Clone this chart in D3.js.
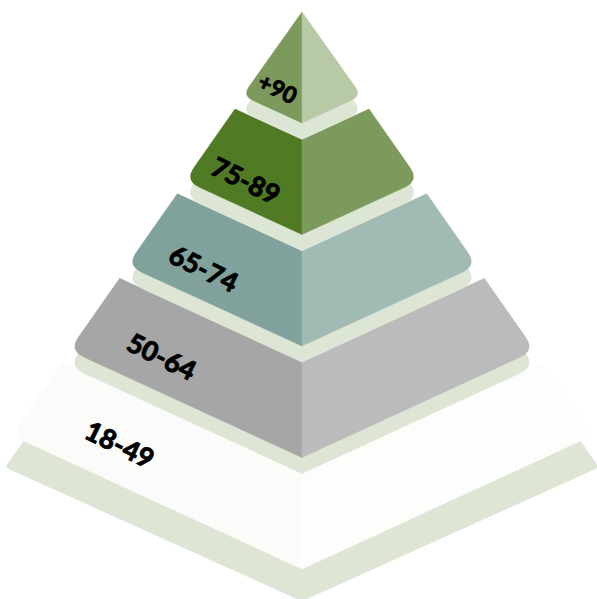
<!DOCTYPE html>
<html>
<head>
<meta charset="utf-8">
<script src="https://cdn.jsdelivr.net/npm/d3@7"></script>
<style>
  html, body { margin: 0; padding: 0; background: #ffffff; }
  svg { display: block; }
</style>
</head>
<body>
<div id="chart"></div>
<script>
// ---- data ----
const categories = ["+90", "75-89", "65-74", "50-64", "18-49"];
const leftColors = ["#7c9a5b", "#507b24", "#81a29c", "#a6a6a6", "#fbfbf9"];
const rightColors = ["#b7c9a5", "#7c9a5b", "#a2bab4", "#bbbbbb", "#fdfdfb"];
const shadowColor = "#dde5d5";

// ---- layout ----
const W = 597, H = 599;
const cx = 302;
const vSlope = 0.46;   // slope of the front V edges (dy/dx)
const idx = d3.range(categories.length);

const yBottom = d3.scaleLinear().domain([0, 4]).range([123, 569]);
const yTop = d3.scaleLinear().domain([1, 4]).range([109, 363]);
const halfTop = d3.scaleLinear().domain([1, 4]).range([67, 240]);
const labelX = d3.scaleLinear().domain([1, 4]).range([246, 120]);
const labelY = d3.scaleLinear().domain([1, 4]).range([180, 444]);

function geom(i) {
  const yT = i === 0 ? 12 : yTop(i);
  const wT = i === 0 ? 0 : halfTop(i);
  const k = i === 0 ? 0.71 : 0.70;
  const yB = yBottom(i);
  const u = (wT + k * (yB - yT)) / (1 + k * vSlope);
  const yC = yB - vSlope * u;
  return { yT, wT, yB, u, yC, tc: yT + vSlope * wT };
}

function unit(ax, ay, bx, by) {
  const dx = bx - ax, dy = by - ay, l = Math.hypot(dx, dy);
  return [dx / l, dy / l];
}

// side: -1 left, +1 right
function facePath(g, side, r, dx = 0, dy = 0, grow = 0) {
  const s = side;
  const TL = [cx + s * (g.wT + grow) + dx, g.yT + dy];
  const TC = [cx + dx, g.tc + dy];
  const BC = [cx + dx, g.yB + dy];
  const C = [cx + s * (g.u + grow) + dx, g.yC + dy];
  const p = d3.path();
  if (r > 0) {
    const a = unit(C[0], C[1], TL[0], TL[1]);
    const b = unit(C[0], C[1], BC[0], BC[1]);
    p.moveTo(TL[0], TL[1]);
    p.lineTo(C[0] + a[0] * r, C[1] + a[1] * r);
    p.quadraticCurveTo(C[0], C[1], C[0] + b[0] * r, C[1] + b[1] * r);
  } else {
    p.moveTo(TL[0], TL[1]);
    p.lineTo(C[0], C[1]);
  }
  p.lineTo(BC[0], BC[1]);
  p.lineTo(TC[0], TC[1]);
  p.closePath();
  return p.toString();
}

const svg = d3.select("#chart").append("svg")
  .attr("width", W).attr("height", H);

// draw from bottom layer up
const order = idx.slice().reverse();
order.forEach(i => {
  const g = geom(i);
  const r = i === 0 ? 11 : 16;
  const grp = svg.append("g").attr("class", "layer");
  const last = i === categories.length - 1;
  const sdy = last ? 32 : 16;
  const grow = last ? 6 : 0;
  const sr = last ? 3 : r;
  [-1, 1].forEach(s => {
    grp.append("path")
      .attr("d", facePath(g, s, sr, 0, sdy, grow))
      .attr("fill", shadowColor)
      .attr("stroke", shadowColor).attr("stroke-width", 0.6);
  });
  grp.append("path").attr("d", facePath(g, -1, r)).attr("fill", leftColors[i])
    .attr("stroke", leftColors[i]).attr("stroke-width", 0.5);
  grp.append("path").attr("d", facePath(g, 1, r)).attr("fill", rightColors[i])
    .attr("stroke", rightColors[i]).attr("stroke-width", 0.5);
});

// labels
const angle = 26;
svg.append("g").selectAll("text").data(idx).join("text")
  .attr("transform", i => {
    const x = i === 0 ? 278 : labelX(i);
    const y = i === 0 ? 88 : labelY(i);
    return `translate(${x},${y}) rotate(${angle})`;
  })
  .attr("text-anchor", "middle")
  .attr("dominant-baseline", "central")
  .attr("font-family", "Lato, 'Open Sans', sans-serif")
  .attr("font-weight", 900)
  .attr("font-size", i => i === 0 ? 23 : 27)
  .attr("fill", "#000")
  .attr("stroke", "#000")
  .attr("stroke-width", 0.7)
  .text(i => categories[i]);
</script>
</body>
</html>
